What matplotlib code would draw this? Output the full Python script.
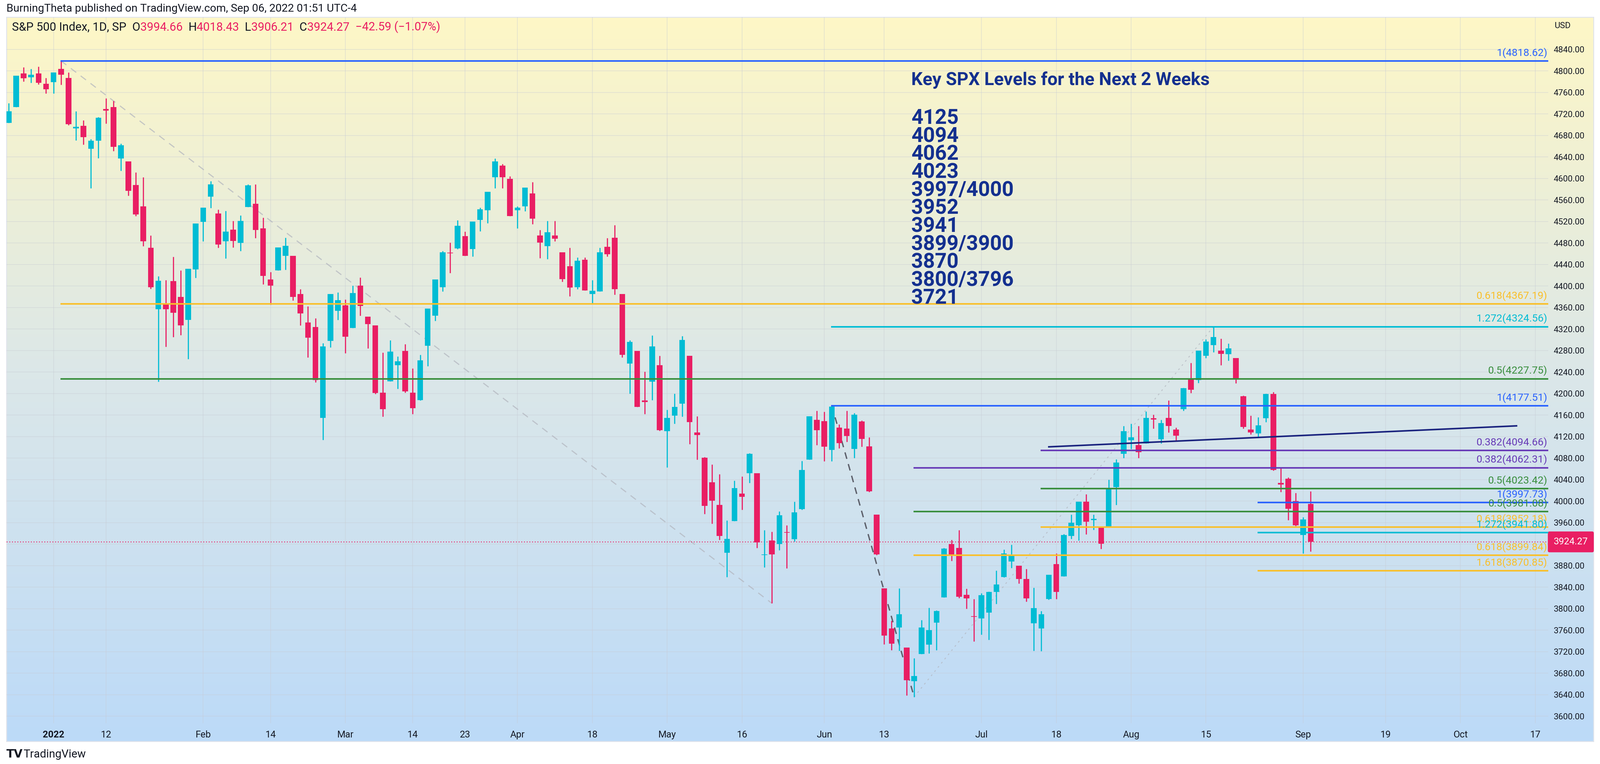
import numpy as np
import pandas as pd
import matplotlib.pyplot as plt
from matplotlib.colors import LinearSegmentedColormap

# daily OHLC, Dec 23 2021 .. Sep 2 2022
opens = [4703, 4733, 4795, 4788, 4795, 4776, 4779, 4804, 4787, 4693, 4698, 4655, 4670, 4729, 4733, 4637,
         4632, 4588, 4548, 4471, 4357, 4367, 4409, 4380, 4337, 4431, 4519, 4566, 4535, 4483, 4505, 4480,
         4547, 4553, 4507, 4412, 4429, 4456, 4456, 4385, 4332, 4324, 4155, 4298, 4354, 4364, 4322, 4401,
         4343, 4327, 4202, 4223, 4253, 4279, 4202, 4188, 4289, 4345, 4398, 4462, 4470, 4493, 4469, 4523,
         4541, 4602, 4624, 4599, 4541, 4548, 4572, 4494, 4474, 4494, 4463, 4437, 4398, 4449, 4385, 4390,
         4473, 4490, 4385, 4256, 4279, 4187, 4222, 4253, 4130, 4159, 4181, 4270, 4128, 4081, 4035, 3993,
         3904, 3963, 4014, 4052, 4052, 3900, 3927, 3920, 3942, 3929, 3985, 4077, 4151, 4149, 4095, 4137,
         4135, 4097, 4148, 4102, 3975, 3838, 3763, 3765, 3728, 3665, 3716, 3733, 3774, 3821, 3920, 3913,
         3826, 3786, 3782, 3793, 3831, 3859, 3888, 3880, 3855, 3773, 3763, 3818, 3883, 3860, 3935, 3955,
         3999, 3965, 3953, 3951, 4026, 4088, 4113, 4104, 4107, 4154, 4115, 4155, 4133, 4171, 4227, 4225,
         4270, 4290, 4280, 4273, 4266, 4195, 4133, 4126, 4154, 4199, 4034, 4042, 4000, 3937, 3994.66]
highs = [4740, 4791, 4807, 4804, 4808, 4787, 4797, 4818.62, 4797, 4725, 4708, 4673, 4714, 4749, 4744, 4665,
         4632, 4611, 4602, 4494, 4418, 4411, 4454, 4429, 4432, 4516, 4546, 4595, 4542, 4540, 4521, 4531,
         4589, 4589, 4527, 4426, 4472, 4490, 4456, 4394, 4362, 4340, 4294, 4385, 4388, 4375, 4401, 4416,
         4343, 4327, 4276, 4299, 4269, 4292, 4247, 4272, 4358, 4412, 4465, 4481, 4522, 4501, 4520, 4546,
         4575, 4637, 4627, 4604, 4548, 4583, 4593, 4504, 4521, 4521, 4463, 4471, 4453, 4453, 4411, 4471,
         4489, 4513, 4385, 4299, 4279, 4241, 4308, 4270, 4170, 4200, 4307, 4270, 4158, 4082, 4068, 4050,
         3964, 4038, 4046, 4089, 4052, 3946, 3943, 3981, 3955, 3999, 4075, 4158, 4168, 4166, 4177.51, 4143,
         4168, 4164, 4150, 4119, 3975, 3838, 3778, 3838, 3728, 3708, 3779, 3802, 3797, 3913, 3928, 3946,
         3837, 3818, 3829, 3832, 3871, 3910, 3919, 3880, 3874, 3839, 3796, 3863, 3903, 3939, 3975, 3999,
         4013, 3975, 3953, 4040, 4078, 4140, 4144, 4140, 4167, 4161, 4151, 4187, 4137, 4211, 4257, 4280,
         4301, 4324.56, 4302, 4293, 4266, 4196, 4159, 4156, 4200, 4203, 4062, 4044, 4015, 3970, 4018.43]
lows = [4703, 4733, 4780, 4778, 4775, 4758, 4758, 4774, 4699, 4671, 4663, 4582, 4638, 4702, 4651, 4614,
        4568, 4530, 4474, 4395, 4222, 4287, 4305, 4309, 4264, 4415, 4483, 4545, 4471, 4451, 4472, 4465,
        4547, 4489, 4403, 4365, 4429, 4430, 4373, 4327, 4267, 4221, 4114, 4286, 4337, 4275, 4322, 4345,
        4284, 4199, 4157, 4223, 4209, 4202, 4162, 4187, 4251, 4335, 4390, 4424, 4469, 4456, 4455, 4502,
        4517, 4582, 4582, 4530, 4507, 4539, 4515, 4452, 4450, 4483, 4408, 4381, 4394, 4392, 4368, 4390,
        4455, 4384, 4267, 4200, 4175, 4162, 4188, 4131, 4063, 4144, 4157, 4106, 4077, 3976, 3958, 3928,
        3859, 3963, 3984, 4034, 3913, 3877, 3810, 3909, 3875, 3925, 3984, 4077, 4104, 4074, 4074, 4098,
        4110, 4080, 4101, 4017, 3900, 3734, 3723, 3722, 3639, 3636, 3716, 3717, 3723, 3821, 3889, 3820,
        3800, 3739, 3752, 3742, 3809, 3858, 3876, 3847, 3813, 3722, 3721, 3817, 3818, 3860, 3930, 3927,
        3938, 3947, 3911, 3951, 3993, 4080, 4097, 4080, 4107, 4135, 4107, 4128, 4112, 4168, 4201, 4220,
        4266, 4277, 4253, 4261, 4219, 4135, 4124, 4119, 4147, 4057, 4017, 3965, 3954, 3903, 3906.21]
closes = [4725, 4791, 4786, 4793, 4778, 4766, 4797, 4793, 4701, 4696, 4677, 4670, 4713, 4726, 4659, 4662,
          4577, 4533, 4483, 4398, 4410, 4357, 4350, 4327, 4432, 4516, 4546, 4589, 4477, 4501, 4484, 4521,
          4587, 4504, 4419, 4401, 4472, 4475, 4380, 4349, 4304, 4225, 4288, 4385, 4374, 4306, 4387, 4363,
          4329, 4201, 4171, 4278, 4260, 4204, 4173, 4262, 4358, 4412, 4463, 4461, 4512, 4456, 4520, 4543,
          4575, 4632, 4602, 4530, 4546, 4583, 4525, 4481, 4500, 4488, 4413, 4397, 4447, 4392, 4391, 4463,
          4459, 4394, 4272, 4296, 4175, 4184, 4288, 4132, 4155, 4175, 4300, 4147, 4123, 3991, 4001, 3935,
          3930, 4024, 4008, 4088, 3923, 3901, 3901, 3974, 3941, 3979, 4058, 4158, 4132, 4101, 4176, 4108,
          4121, 4161, 4116, 4018, 3901, 3750, 3735, 3790, 3667, 3675, 3765, 3760, 3796, 3912, 3901, 3822,
          3819, 3785, 3825, 3831, 3845, 3903, 3899, 3855, 3819, 3801, 3790, 3863, 3831, 3937, 3960, 3999,
          3962, 3967, 3921, 4024, 4072, 4130, 4119, 4091, 4155, 4152, 4145, 4140, 4122, 4210, 4207, 4280,
          4297, 4305, 4274, 4284, 4228, 4138, 4128, 4141, 4199, 4058, 4031, 3986, 3955, 3966, 3924.27]

holidays = ["2021-12-24", "2022-01-17", "2022-02-21", "2022-04-15", "2022-05-30",
            "2022-06-20", "2022-07-04", "2022-09-05"]
days = [d for d in pd.bdate_range("2021-12-23", "2022-10-31") if d.strftime("%Y-%m-%d") not in holidays]
n = len(closes)
assert len(opens) == len(highs) == len(lows) == n

tick_dates = ["2022-01-03", "2022-01-12", "2022-02-01", "2022-02-14", "2022-03-01", "2022-03-14",
              "2022-03-23", "2022-04-01", "2022-04-18", "2022-05-02", "2022-05-16", "2022-06-01",
              "2022-06-13", "2022-07-01", "2022-07-18", "2022-08-01", "2022-08-15", "2022-09-01",
              "2022-09-19", "2022-10-03", "2022-10-17"]
tick_labels = ["2022", "12", "Feb", "14", "Mar", "14", "23", "Apr", "18", "May", "16", "Jun",
               "13", "Jul", "18", "Aug", "15", "Sep", "19", "Oct", "17"]

# fib levels
levels = [4818.62, 4367.19, 4227.75, 4324.56, 4177.51, 4094.66, 4062.31, 4023.42,
          3997.73, 3981.08, 3952.18, 3941.80, 3899.84, 3870.85]
level_start = ["2022-01-04", "2022-01-04", "2022-01-04", "2022-06-02", "2022-06-02", "2022-07-14",
               "2022-06-17", "2022-07-14", "2022-08-24", "2022-06-17", "2022-07-14", "2022-08-24",
               "2022-06-17", "2022-08-24"]
level_names = ["1", "0.618", "0.5", "1.272", "1", "0.382", "0.382", "0.5",
               "1", "0.5", "0.618", "1.272", "0.618", "1.618"]
BLUE, ORANGE, GREEN, TEAL, PURPLE = "#2962ff", "#f9bf2a", "#388e3c", "#00bcd4", "#673ab7"
level_colors = [BLUE, ORANGE, GREEN, TEAL, BLUE, PURPLE, PURPLE, GREEN,
                BLUE, GREEN, ORANGE, TEAL, ORANGE, ORANGE]

key_levels = ["4125", "4094", "4062", "4023", "3997/4000", "3952", "3941",
              "3899/3900", "3870", "3800/3796", "3721"]

idx = {d.strftime("%Y-%m-%d"): i for i, d in enumerate(days)}
UP, DOWN = "#00bcd4", "#e91e63"
INK = "#131722"
FONT = "Roboto"
FS = 19

fig = plt.figure(figsize=(49.48, 23.62), dpi=100, facecolor="white")

# chart panel with gradient
bg = fig.add_axes([0.004, 0.0296, 0.992, 0.948])
cmap = LinearSegmentedColormap.from_list("bg", ["#bcdaf8", "#dbe7e9", "#fef7c6"])
bg.imshow(np.linspace(0, 1, 256).reshape(-1, 1), origin="lower", aspect="auto", cmap=cmap,
          extent=[0, 1, 0, 1])
bg.set_xticks([])
bg.set_yticks([])
for s in bg.spines.values():
    s.set_color("#e0e3eb")
    s.set_linewidth(2)

ax = fig.add_axes([0.004, 0.0533, 0.9637, 0.9243])
ax.patch.set_alpha(0)
x0, x1 = -0.3, 205.75
y0, y1 = 3587, 4900
ax.set_xlim(x0, x1)
ax.set_ylim(y0, y1)

ticks = [idx[d] for d in tick_dates]
ax.set_xticks(ticks)
ax.set_xticklabels(tick_labels, fontsize=21, color=INK, family=FONT)
ax.get_xticklabels()[0].set_fontweight("bold")
yt = np.arange(3600, 4841, 40)
ax.set_yticks(yt)
ax.set_yticklabels([f"{v:.2f}" for v in yt], fontsize=FS, color=INK, family=FONT)
ax.yaxis.tick_right()
ax.tick_params(axis="y", length=0, pad=12)
ax.tick_params(axis="x", length=0, pad=16)
ax.grid(True, color="#c8ccd4", lw=1.5, alpha=0.45, zorder=1)
for s in ax.spines.values():
    s.set_visible(False)

# candles
for i in range(n):
    c = UP if closes[i] >= opens[i] else DOWN
    ax.plot([i, i], [lows[i], highs[i]], color=c, lw=2.5, zorder=4, solid_capstyle="butt")
    lo, hi = sorted([opens[i], closes[i]])
    ax.bar(i, max(hi - lo, 1.2), bottom=lo, width=0.76, color=c, zorder=5, lw=0)

# trend / swing lines
ax.plot([idx["2022-01-04"], idx["2022-05-20"]], [highs[idx["2022-01-04"]], lows[idx["2022-05-20"]]],
        ls=(0, (6, 5)), color="#b2b5be", lw=2.5, alpha=0.7, zorder=3)
ax.plot([idx["2022-06-02"], idx["2022-06-17"]], [highs[idx["2022-06-02"]], lows[idx["2022-06-17"]]],
        ls=(0, (5, 4)), color="#5d606b", lw=3, zorder=3)
ax.plot([idx["2022-06-17"], idx["2022-08-16"]], [lows[idx["2022-06-17"]], highs[idx["2022-08-16"]]],
        ls=(0, (2, 4)), color="#b2b5be", lw=2, alpha=0.7, zorder=3)
ax.plot([idx["2022-07-14"] + 1, 201.5], [4101, 4140], color="#1a237e", lw=3.5, zorder=6)

# fib levels
x_end = x1
for p, s, c, name in zip(levels, level_start, level_colors, level_names):
    ax.plot([idx[s], x_end], [p, p], color=c, lw=3.5, zorder=6)
    ax.text(x_end - 0.15, p + 5, f"{name}({p:.2f})", color=c, fontsize=23, family=FONT,
            ha="right", va="bottom", zorder=7)

# last price
last = closes[-1]
ax.axhline(last, color=DOWN, lw=2, ls=(0, (1, 2)), zorder=3)
ax.text(1.0035, last, f"{last:.2f}", transform=ax.get_yaxis_transform(), fontsize=21,
        family=FONT, color="white", va="center", ha="left",
        bbox=dict(boxstyle="round,pad=0.6,rounding_size=0.15", fc=DOWN, ec=DOWN))

# annotation
fig.text(0.5695, 0.907, "Key SPX Levels for the Next 2 Weeks", fontsize=40, fontweight="bold",
         color="#14308f", family=FONT, va="top")
for k, lv in enumerate(key_levels):
    fig.text(0.5695, 0.858 - k * 0.02355, lv, fontsize=46, fontweight="bold",
             color="#14308f", family=FONT, va="top")

# header / footer
fig.text(0.004, 0.9885, "BurningTheta published on TradingView.com, Sep 06, 2022 01:51 UTC-4",
         fontsize=24.5, family=FONT, color=INK, va="center")
fig.text(0.9715, 0.966, "USD", fontsize=FS, family=FONT, color=INK, va="center", ha="left")
hdr = [("S&P 500 Index, 1D, SP  ", INK), ("O", INK), ("3994.66  ", DOWN),
       ("H", INK), ("4018.43  ", DOWN), ("L", INK), ("3906.21  ", DOWN),
       ("C", INK), ("3924.27  ", DOWN), ("\u221242.59 (\u22121.07%)", DOWN)]
t = fig.text(0.0075, 0.964, hdr[0][0], fontsize=26, family=FONT, color=hdr[0][1], va="center")
fig.canvas.draw()
for txt, col in hdr[1:]:
    t = ax.annotate(txt, xycoords=t, xy=(1, 0), va="bottom", fontsize=26, family=FONT, color=col,
                    annotation_clip=False)
fig.text(0.004, 0.0125, "TV", fontsize=25, family="DejaVu Sans", fontweight="bold", color=INK,
         va="center")
fig.text(0.0145, 0.0125, "TradingView", fontsize=25, family=FONT, color=INK, va="center")

fig.savefig("out.png", dpi=100, facecolor="white")
